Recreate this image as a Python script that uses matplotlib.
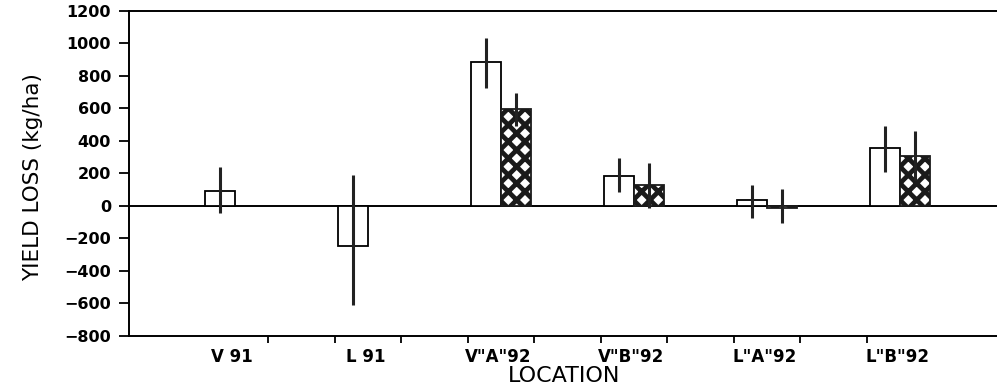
import numpy as np
import matplotlib
matplotlib.use("Agg")
import matplotlib.pyplot as plt

# values (kg/ha)
locations = ['V 91', 'L 91', 'V"A"92', 'V"B"92', 'L"A"92', 'L"B"92']
open_loss = [95, -245, 885, 185, 35, 355]
open_lo = [-45, -610, 728, 88, -76, 211]
open_hi = [242, 190, 1032, 293, 129, 494]
hatch_loss = [np.nan, np.nan, 595, 128, -15, 310]
hatch_lo = [np.nan, np.nan, 495, -10, -105, 160]
hatch_hi = [np.nan, np.nan, 697, 266, 103, 461]
yticks = [-800, -600, -400, -200, 0, 200, 400, 600, 800, 1000, 1200]

plt.rcParams['hatch.linewidth'] = 3.4

fig = plt.figure(figsize=(9.97, 3.91), dpi=100)
ax = fig.add_axes([0.1294, 0.1407, 0.8706, 0.8312])

x = np.arange(len(locations))
w = 0.2256

ov = np.array(open_loss, float)
ax.bar(x - w / 2, ov, w, facecolor='white', edgecolor='black', linewidth=1.3, zorder=2)
ax.errorbar(x - w / 2, ov, yerr=[ov - np.array(open_lo), np.array(open_hi) - ov],
            fmt='none', ecolor='#222222', elinewidth=2.2, capsize=0, zorder=3)

hv = np.array(hatch_loss, float)
m = ~np.isnan(hv)
ax.bar(x[m] + w / 2, hv[m], w, facecolor='white', edgecolor='#1a1a1a',
       hatch='xx', linewidth=1.3, zorder=2)
ax.errorbar(x[m] + w / 2, hv[m],
            yerr=[hv[m] - np.array(hatch_lo)[m], np.array(hatch_hi)[m] - hv[m]],
            fmt='none', ecolor='#222222', elinewidth=2.2, capsize=0, zorder=3)

ax.axhline(0, color='black', linewidth=1.4, zorder=1)

ax.set_xlim(-0.797, 5.729)
ax.set_ylim(-800, 1200)

ax.spines['right'].set_visible(False)
for s in ['top', 'left', 'bottom']:
    ax.spines[s].set_linewidth(1.4)

ax.set_yticks(yticks)
ax.set_yticklabels([str(v).replace('-', '\u2212') for v in yticks],
                   fontsize=11.5, fontweight='bold')
ax.tick_params(axis='y', direction='out', length=7, width=1.3, pad=6)

# tick marks between groups, labels centred under each group
ax.set_xticks([i + d for i in range(len(locations)) for d in (0.25, 0.75)][:-2])
ax.set_xticklabels([])
ax.set_xticks(x - 0.02, minor=True)
ax.set_xticklabels(locations, minor=True, fontsize=12, fontweight='bold')
ax.tick_params(axis='x', which='major', direction='out', length=5, width=1.3)
ax.tick_params(axis='x', which='minor', length=0, pad=9)

ax.set_xlabel('LOCATION', fontsize=16)
ax.xaxis.set_label_coords(0.501, -0.093)
ax.set_ylabel('YIELD LOSS (kg/ha)', fontsize=15.5)
ax.yaxis.set_label_coords(-0.099, 0.49)

fig.savefig('out.png', dpi=100)
